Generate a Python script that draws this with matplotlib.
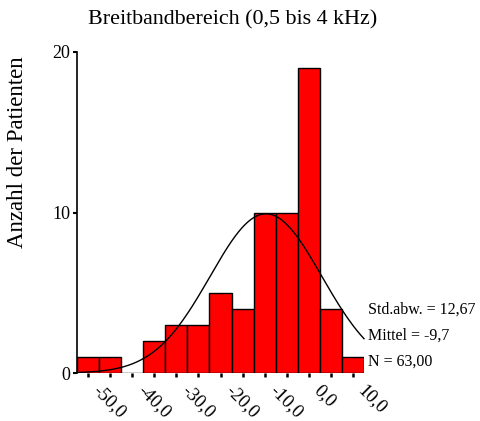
import matplotlib
matplotlib.use("Agg")
import matplotlib.pyplot as plt
import numpy as np

plt.rcParams['font.family'] = ['Liberation Serif', 'DejaVu Serif']

# Data
bin_centers = [-50, -45, -40, -35, -30, -25, -20, -15, -10, -5, 0, 5, 10]
counts = [1, 1, 0, 2, 3, 3, 5, 4, 10, 10, 19, 4, 1]
bin_width = 5
tick_labels = ["-50,0", "-40,0", "-30,0", "-20,0", "-10,0", "0,0", "10,0"]
label_positions = [-50, -40, -30, -20, -10, 0, 10]
mean_val = -9.7
std_val = 12.67
n_val = 63
stats_lines = ["Std.abw. = 12,67", "Mittel = -9,7", "N = 63,00"]
title = "Breitbandbereich (0,5 bis 4 kHz)"
ylabel = "Anzahl der Patienten"

fig = plt.figure(figsize=(4.81, 4.21), dpi=100)
ax = fig.add_axes([77/481, 48/421, (364-77)/481, (373-52)/421])

ax.bar(bin_centers, counts, width=bin_width, color='#ff0000',
       edgecolor='black', linewidth=1.0, zorder=2)

xs = np.linspace(bin_centers[0] - bin_width/2, bin_centers[-1] + bin_width/2, 300)
pdf = n_val * bin_width / (std_val * np.sqrt(2*np.pi)) * np.exp(-0.5*((xs-mean_val)/std_val)**2)
ax.plot(xs, pdf, color='black', linewidth=1.0, zorder=3, clip_on=False)

ax.set_xlim(bin_centers[0] - bin_width/2, bin_centers[-1] + bin_width/2)
ax.set_ylim(0, 20)

for s in ['top', 'right', 'bottom']:
    ax.spines[s].set_visible(False)
ax.spines['left'].set_linewidth(1.2)

ax.set_yticks([0, 10, 20])
ax.set_yticklabels(["0", "10", "20"], fontsize=13)
ax.tick_params(axis='y', direction='out', length=3, width=1.5, pad=2)

ax.set_xticks(bin_centers, minor=False)
ax.set_xticklabels([""]*len(bin_centers))
ax.tick_params(axis='x', direction='out', length=3, width=1.8, pad=2)
for pos, lab in zip(label_positions, tick_labels):
    ax.annotate(lab, xy=(pos, 0), xycoords='data', xytext=(10, -6.5),
                textcoords='offset points', rotation=-45, rotation_mode='anchor',
                ha='left', va='top', fontsize=13.5)

fig.text(18/481, 1 - 152/421, ylabel, ha='center', va='center', rotation=90, fontsize=16.5)
fig.text(233/481, 1 - 20/421, title, ha='center', va='center', fontsize=15.8)

for i, line in enumerate(stats_lines):
    fig.text(368/481, 1 - (310 + i*26)/421, line, ha='left', va='center', fontsize=11.5)

fig.savefig("out.png", dpi=100)
